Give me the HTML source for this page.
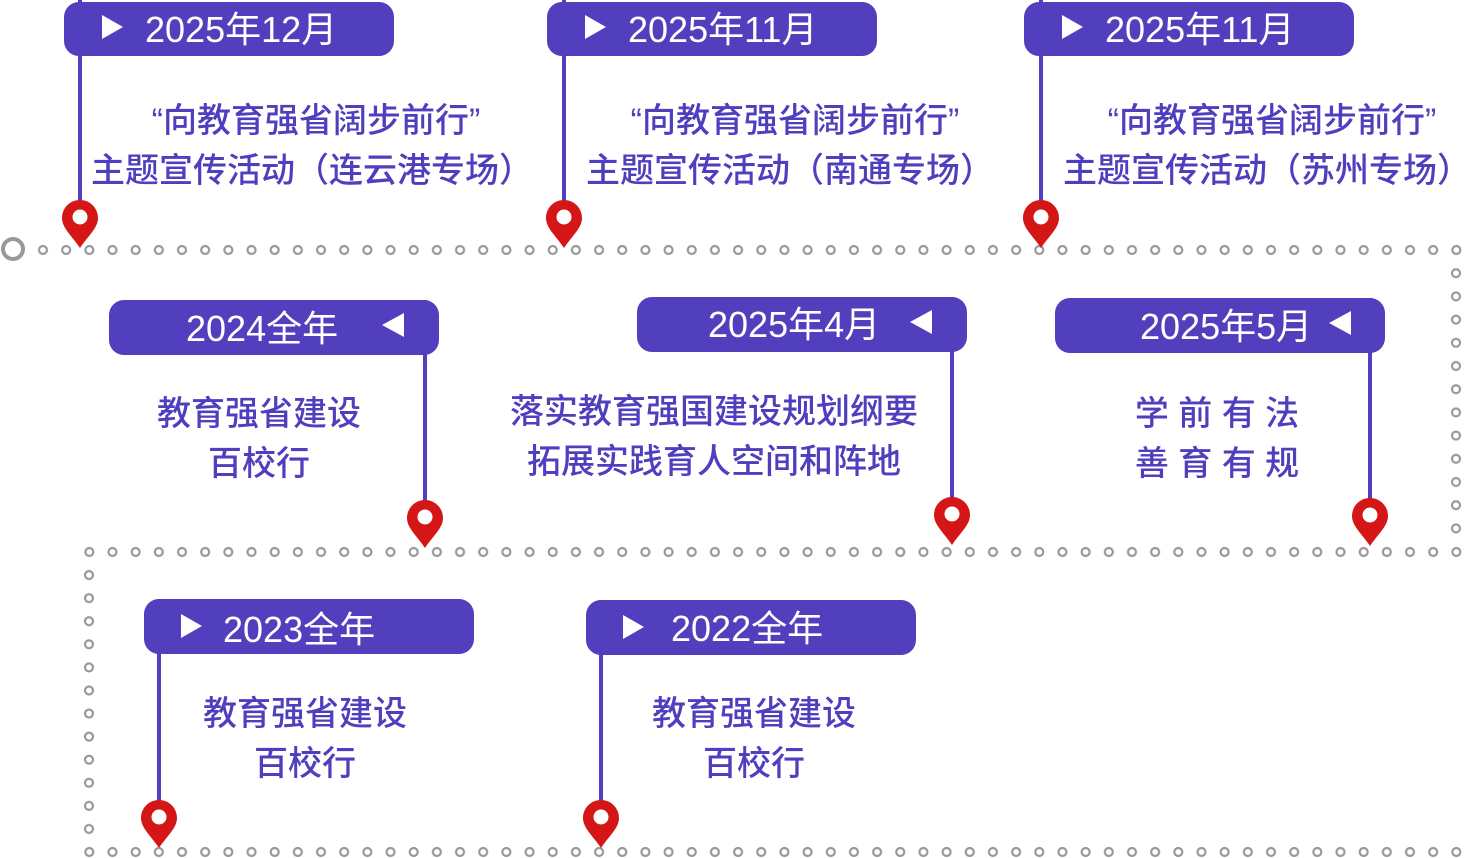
<!DOCTYPE html>
<html><head><meta charset="utf-8"><style>
body{margin:0;background:#fff;}
svg{display:block}
.t{font-family:"Liberation Sans","Noto Sans CJK SC",sans-serif;}
.h{fill:#fff;font-size:36px;}
.b{fill:#4f3fbf;font-size:34px;font-weight:500;text-anchor:middle;}
</style></head><body>
<svg width="1470" height="858" viewBox="0 0 1470 858" xmlns="http://www.w3.org/2000/svg">
<defs>
<pattern id="ph" patternUnits="userSpaceOnUse" x="31.4" y="0" width="23.17" height="858">
<circle cx="11.58" cy="250" r="4" fill="none" stroke="#999" stroke-width="2.2"/>
<circle cx="11.58" cy="552" r="4" fill="none" stroke="#999" stroke-width="2.2"/>
<circle cx="11.58" cy="852" r="4" fill="none" stroke="#999" stroke-width="2.2"/>
</pattern>
<pattern id="pv" patternUnits="userSpaceOnUse" x="0" y="238.4" width="1470" height="23.2">
<circle cx="1456" cy="11.6" r="4" fill="none" stroke="#999" stroke-width="2.2"/>
</pattern>
<pattern id="pv2" patternUnits="userSpaceOnUse" x="0" y="540.4" width="1470" height="23.08">
<circle cx="89" cy="11.6" r="4" fill="none" stroke="#999" stroke-width="2.2"/>
</pattern>
<g id="pin"><path d="M0 0 C-10 0 -18 8 -18 18 C-18 28 -8 36 0 48 C8 36 18 28 18 18 C18 8 10 0 0 0 Z" fill="#d41616"/><circle cx="0" cy="17" r="7.5" fill="#fff"/></g>
</defs>
<rect x="36" y="240" width="1428" height="20" fill="url(#ph)"/>
<rect x="82" y="542" width="1382" height="20" fill="url(#ph)"/>
<rect x="82" y="842" width="1382" height="16" fill="url(#ph)"/>
<rect x="1446" y="260" width="20" height="284" fill="url(#pv)"/>
<rect x="79" y="562" width="20" height="282" fill="url(#pv2)"/>
<circle cx="13" cy="249" r="10" fill="none" stroke="#999" stroke-width="4"/>

<g fill="#523fbd">
<rect x="78" y="0" width="4" height="215"/>
<rect x="64" y="2" width="330" height="54" rx="15"/>
<rect x="562" y="0" width="4" height="215"/>
<rect x="547" y="2" width="330" height="54" rx="15"/>
<rect x="1039" y="0" width="4" height="215"/>
<rect x="1024" y="2" width="330" height="54" rx="15"/>
<rect x="423" y="300" width="4" height="215"/>
<rect x="109" y="300" width="330" height="55" rx="15"/>
<rect x="950" y="297" width="4" height="215"/>
<rect x="637" y="297" width="330" height="55" rx="15"/>
<rect x="1368" y="298" width="4" height="215"/>
<rect x="1055" y="298" width="330" height="55" rx="15"/>
<rect x="157" y="599" width="4" height="215"/>
<rect x="144" y="599" width="330" height="55" rx="15"/>
<rect x="599" y="600" width="4" height="215"/>
<rect x="586" y="600" width="330" height="55" rx="15"/>
</g>
<g fill="#fff">
<path d="M102 15 L123 27 L102 39Z"/>
<path d="M585 15 L606 27 L585 39Z"/>
<path d="M1062 15 L1083 27 L1062 39Z"/>
<path d="M404 313 L382 325 L404 337Z"/>
<path d="M932 310 L910 322 L932 334Z"/>
<path d="M1351 311 L1329 323 L1351 335Z"/>
<path d="M181 614 L202 626 L181 638Z"/>
<path d="M623 615 L644 627 L623 639Z"/>
</g>
<g class="t h">
<text x="145" y="42">2025年12月</text>
<text x="628" y="42">2025年11月</text>
<text x="1105" y="42">2025年11月</text>
<text x="186" y="341">2024全年</text>
<text x="708" y="337">2025年4月</text>
<text x="1140" y="339">2025年5月</text>
<text x="223" y="642">2023全年</text>
<text x="671" y="641">2022全年</text>
</g>
<g class="t b">
<text x="316" y="132">“向教育强省阔步前行”</text>
<text x="312" y="182">主题宣传活动（连云港专场）</text>
<text x="795" y="132">“向教育强省阔步前行”</text>
<text x="790" y="182">主题宣传活动（南通专场）</text>
<text x="1272" y="132">“向教育强省阔步前行”</text>
<text x="1267" y="182">主题宣传活动（苏州专场）</text>
<text x="259" y="425">教育强省建设</text>
<text x="259" y="475">百校行</text>
<text x="714" y="423">落实教育强国建设规划纲要</text>
<text x="714" y="473">拓展实践育人空间和阵地</text>
<text x="1217" y="425">学 前 有 法</text>
<text x="1217" y="475">善 育 有 规</text>
<text x="305" y="725">教育强省建设</text>
<text x="305" y="775">百校行</text>
<text x="754" y="725">教育强省建设</text>
<text x="754" y="775">百校行</text>
</g>
<use href="#pin" x="80" y="200"/>
<use href="#pin" x="564" y="200"/>
<use href="#pin" x="1041" y="200"/>
<use href="#pin" x="425" y="500"/>
<use href="#pin" x="952" y="497"/>
<use href="#pin" x="1370" y="498"/>
<use href="#pin" x="159" y="800"/>
<use href="#pin" x="601" y="800"/>
</svg>
</body></html>
